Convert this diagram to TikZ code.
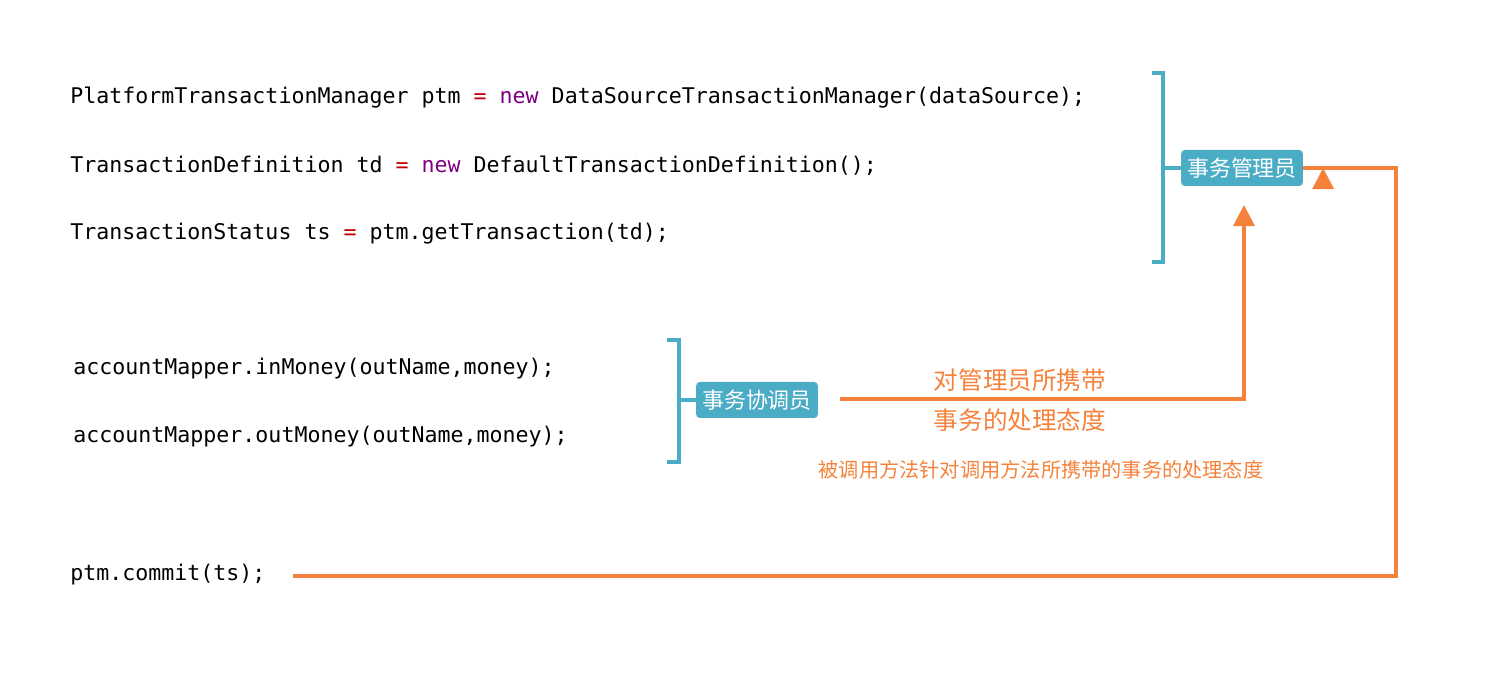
\documentclass[tikz,border=0pt]{standalone}
\usepackage{fontspec}
\setmonofont{DejaVu Sans Mono}
\newfontfamily\cjk{Noto Sans CJK SC}
\usetikzlibrary{arrows.meta}
\definecolor{tealb}{HTML}{4BACC6}
\definecolor{orng}{HTML}{F5813A}
\definecolor{kw}{HTML}{7F0085}
\definecolor{op}{HTML}{C00000}
\begin{document}
\begin{tikzpicture}[x=0.02cm,y=-0.02cm,
  code/.style={anchor=west,inner sep=0,font=\fontsize{12.3}{14}\selectfont\ttfamily},
  lbl/.style={fill=tealb,text=white,rounded corners=2pt,minimum width=2.4cm,minimum height=0.72cm,font=\cjk\fontsize{12.5}{14}\selectfont\itshape},
  brk/.style={draw=tealb,line width=2.2pt},
  arr/.style={draw=orng,line width=1.8pt,-{Triangle[length=12pt,width=12pt]}},
  otxt/.style={text=orng,font=\cjk\fontsize{14}{16}\selectfont}]
\useasboundingbox (0,0) rectangle (1492,685);
\node[code] (c1) at (70,98) {PlatformTransactionManager ptm \textcolor{op}{=} \textcolor{kw}{new} DataSourceTransactionManager(dataSource);};
\node[code] (c2) at (70,166) {TransactionDefinition td \textcolor{op}{=} \textcolor{kw}{new} DefaultTransactionDefinition();};
\node[code] (c3) at (70,234) {TransactionStatus ts \textcolor{op}{=} ptm.getTransaction(td);};
\node[code] (c4) at (73,369) {accountMapper.inMoney(outName,money);};
\node[code] (c5) at (73,437) {accountMapper.outMoney(outName,money);};
\node[code] (c6) at (70,575) {ptm.commit(ts);};
% top bracket
\draw[brk] (1152,73) -- (1163,73) -- (1163,262) -- (1152,262);
\coordinate (b1) at (1163,168);
\node[lbl] (m1) at (1242,168) {事务管理员};
\draw[brk] (b1) -- (m1.west);
% middle bracket
\draw[brk] (667,340) -- (679,340) -- (679,462) -- (667,462);
\coordinate (b2) at (679,400);
\node[lbl] (m2) at (757,400) {事务协调员};
\draw[brk] (b2) -- (m2.west);
% arrows
\coordinate (s1) at (293,576);
\draw[arr] (s1) -- (1396,576) -- (1396,168) -- (m1.east) ++(20,0);
\coordinate (s2) at (840,399);
\coordinate (t2) at (1244,205);
\draw[arr] (s2) -- (1244,399) -- (t2);
\node[otxt] (o1) at (1020,380) {对管理员所携带};
\node[otxt] (o2) at (1020,420) {事务的处理态度};
\node[text=orng,font=\cjk\fontsize{11.5}{13}\selectfont] (o3) at (1041,470) {被调用方法针对调用方法所携带的事务的处理态度};
\end{tikzpicture}
\end{document}
